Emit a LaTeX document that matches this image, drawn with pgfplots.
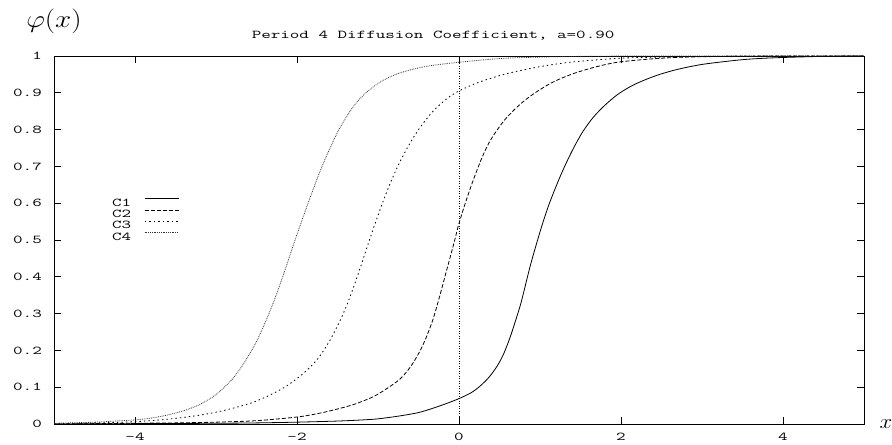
\documentclass[border=0pt]{standalone}
\usepackage{fontspec}
\usepackage{graphicx}
\usepackage{pgfplots}
\pgfplotsset{compat=1.18}
\newfontfamily\gp[FakeStretch=1.55]{Latin Modern Mono}
\newcommand{\gpf}{\gp\fontsize{12}{12}\selectfont}

\pgfplotstableread{
x y
-5 0.000
-4 0.001
-3 0.002
-2.5 0.003
-2 0.005
-1.5 0.008
-1.2 0.011
-1.0 0.014
-0.73 0.022
-0.5 0.031
-0.32 0.043
-0.15 0.056
0 0.069
0.15 0.085
0.26 0.103
0.37 0.127
0.47 0.157
0.55 0.19
0.63 0.235
0.70 0.282
0.77 0.333
0.88 0.430
1.0 0.522
1.1 0.590
1.21 0.652
1.3 0.698
1.41 0.748
1.53 0.795
1.66 0.834
1.8 0.866
1.95 0.894
2.1 0.915
2.25 0.931
2.45 0.948
2.65 0.961
2.85 0.971
3.06 0.979
3.5 0.990
3.88 0.995
4.5 0.999
5 1.0
}\cone
\pgfplotstableread{
x y
-5 0.000
-4 0.002
-3.5 0.003
-3 0.005
-2.5 0.009
-2 0.019
-1.75 0.028
-1.55 0.038
-1.3 0.053
-1.06 0.074
-0.9 0.095
-0.73 0.122
-0.6 0.155
-0.48 0.199
-0.4 0.238
-0.32 0.285
-0.235 0.35
-0.15 0.42
-0.07 0.485
0 0.545
0.1 0.615
0.18 0.665
0.28 0.722
0.38 0.768
0.5 0.808
0.59 0.833
0.75 0.868
0.92 0.897
1.15 0.928
1.41 0.952
1.7 0.971
1.99 0.984
2.5 0.994
3 0.998
4 1.0
5 1.0
}\ctwo
\pgfplotstableread{
x y
-5 0.001
-4.5 0.003
-4.02 0.006
-3.6 0.013
-3.2 0.024
-2.9 0.037
-2.58 0.056
-2.35 0.077
-2.13 0.103
-1.93 0.136
-1.8 0.163
-1.72 0.184
-1.6 0.225
-1.47 0.280
-1.38 0.326
-1.30 0.373
-1.22 0.424
-1.14 0.477
-1.04 0.542
-0.93 0.609
-0.83 0.664
-0.73 0.712
-0.6 0.765
-0.48 0.806
-0.32 0.850
-0.15 0.884
0 0.905
0.25 0.929
0.59 0.952
1.0 0.971
1.41 0.984
2 0.994
2.5 0.997
3.5 1.0
5 1.0
}\cthree
\pgfplotstableread{
x y
-5 0.002
-4.5 0.005
-4.02 0.011
-3.8 0.016
-3.61 0.024
-3.4 0.036
-3.2 0.053
-3.0 0.080
-2.79 0.124
-2.65 0.167
-2.5 0.224
-2.4 0.272
-2.29 0.331
-2.21 0.379
-2.13 0.430
-2.05 0.483
-1.96 0.540
-1.85 0.608
-1.72 0.684
-1.6 0.746
-1.47 0.805
-1.3 0.864
-1.14 0.902
-0.95 0.932
-0.73 0.954
-0.4 0.972
0 0.983
0.5 0.993
1 0.997
1.5 0.999
2.5 1.0
5 1.0
}\cfour

\begin{document}
\begin{tikzpicture}
\begin{axis}[
  scale only axis, width=810bp, height=368bp,
  xmin=-5, xmax=5, ymin=0, ymax=1,
  xtick={-4,-2,0,2,4}, xticklabels={-4,-2,0,2,4},
  ytick={0,0.1,0.2,0.3,0.4,0.5,0.6,0.7,0.8,0.9,1},
  yticklabels={0,0.1,0.2,0.3,0.4,0.5,0.6,0.7,0.8,0.9,1},
  tick align=inside, major tick length=7bp,
  axis line style={line width=0.8bp, black},
  every tick/.style={line width=0.8bp, black},
  ticklabel style={font=\gpf, inner sep=0pt},
  xticklabel style={yshift=-9bp},
  yticklabel style={xshift=-12bp},
  title={Period 4 Diffusion Coefficient, a=0.90},
  title style={font=\gpf, inner sep=0pt, at={(axis description cs:0.468,1)}, anchor=base, yshift=12bp},
  xlabel={\scalebox{1.1}[1]{$x$}}, ylabel={\scalebox{1.17}[1]{$\varphi(x)$}},
  every axis x label/.style={at={(axis description cs:1,0)}, anchor=west, xshift=12bp, font=\fontsize{22}{22}\selectfont},
  every axis y label/.style={at={(axis description cs:0,1.0938)}, anchor=center, font=\fontsize{23}{23}\selectfont},
  legend style={draw=none, fill=none, inner sep=0pt, font=\gpf,
    at={(axis description cs:0.0716,0.614)}, anchor=north west,
    row sep=3.5bp, column sep=13bp,
    nodes={inner sep=0pt, text height=7.5bp, text depth=0bp}},
  legend plot pos=right, legend cell align=right,
  legend image code/.code={\draw[#1] (0bp,3.7bp) -- (34bp,3.7bp);},
]
\addplot[forget plot, line width=0.6bp, dash pattern=on 1bp off 1.5bp] coordinates {(0,0) (0,1)};
\addplot[black, line width=0.8bp, smooth] table {\cone};
\addlegendentry{C1}
\addplot[black, line width=0.8bp, smooth, dash pattern=on 4bp off 2bp] table {\ctwo};
\addlegendentry{C2}
\addplot[black, line width=0.8bp, smooth, dash pattern=on 1.5bp off 3bp] table {\cthree};
\addlegendentry{C3}
\addplot[black!80, line width=0.8bp, smooth, dash pattern=on 0.8bp off 1bp] table {\cfour};
\addlegendentry{C4}
\coordinate (sw) at (rel axis cs:0,0);
\end{axis}
\pgfresetboundingbox
\path (sw) ++(-54bp,-21bp) rectangle ++(892bp,445bp);
\end{tikzpicture}
\end{document}
